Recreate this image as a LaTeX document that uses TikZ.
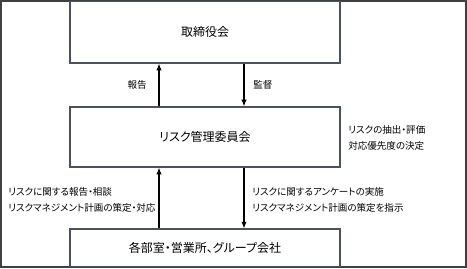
\documentclass[tikz,border=0pt]{standalone}
\usepackage{fontspec}
\newfontfamily\cjk[CharacterWidth=AlternateProportional]{Noto Sans CJK JP}
\usetikzlibrary{arrows.meta}
\begin{document}
\begin{tikzpicture}[x=0.75pt,y=-0.75pt,
  box/.style={draw=boxc,line width=0.9pt,minimum width=202.5pt,inner sep=0pt,font=\cjk\fontsize{9}{11}\selectfont},
  lbl/.style={inner sep=0pt,font=\cjk\fontsize{7.15}{12}\selectfont,align=left},
  arr/.style={line width=0.8pt,-{Latex[length=5pt,width=4pt]}}]
\definecolor{boxc}{HTML}{4A5260}
\definecolor{outc}{HTML}{404040}
\useasboundingbox (0,0) rectangle (467,268);
\draw[outc,line width=1.2pt] (1,1) rectangle (466,267);
\node[box,minimum height=46.1pt] (top) at (205,32.25) {取締役会};
\node[box,minimum height=45pt] (mid) at (205,137) {リスク管理委員会};
\node[box,minimum height=28.1pt] (bot) at (205,247.75) {各部室・営業所、グループ会社};
\coordinate (ux) at (159,0);
\coordinate (dx) at (244,0);
\draw[arr] (mid.north -| ux) -- (top.south -| ux);
\draw[arr] (top.south -| dx) -- (mid.north -| dx);
\draw[arr] (bot.north -| ux) -- (mid.south -| ux);
\draw[arr] (mid.south -| dx) -- (bot.north -| dx);
\node[lbl,anchor=east] (l1) at (147,85) {報告};
\node[lbl,anchor=west] (l2) at (253,85) {監督};
\node[lbl,anchor=west] (l3) at (348,137.5) {リスクの抽出・評価\\対応優先度の決定};
\node[lbl,anchor=west] (l4) at (8,200) {リスクに関する報告・相談\\リスクマネジメント計画の策定・対応};
\node[lbl,anchor=west] (l5) at (252,200) {リスクに関するアンケートの実施\\リスクマネジメント計画の策定を指示};
\end{tikzpicture}
\end{document}
